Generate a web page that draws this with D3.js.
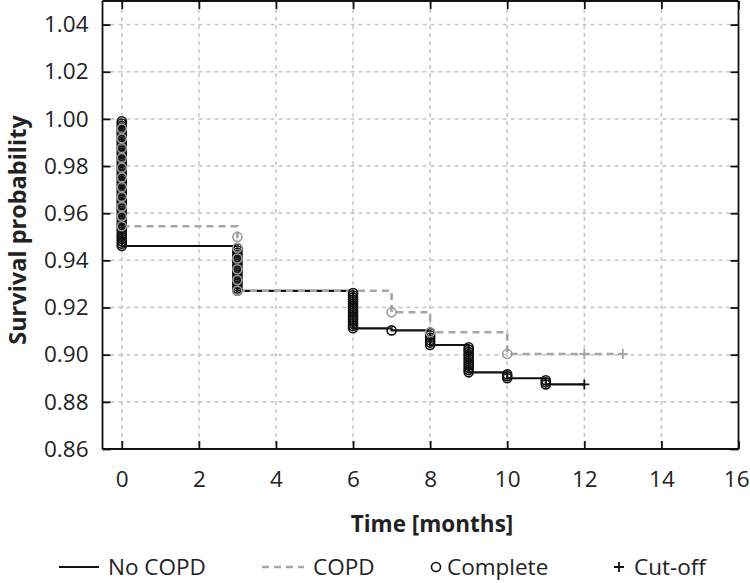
<!DOCTYPE html>
<html>
<head>
<meta charset="utf-8">
<script src="https://cdn.jsdelivr.net/npm/d3@7"></script>
<style>
html,body{margin:0;padding:0;background:#fff;}
svg{display:block;}
text{font-family:"Open Sans","Noto Sans",sans-serif;fill:#222;}
</style>
</head>
<body>
<svg id="chart" width="750" height="583"></svg>
<script>
// ---- data ----
const xTicks = [0, 2, 4, 6, 8, 10, 12, 14, 16];
const yTicks = [0.86, 0.88, 0.90, 0.92, 0.94, 0.96, 0.98, 1.00, 1.02, 1.04];

// No COPD: step times, survival after each step, number of events at the step
const timesNoCOPD  = [0, 3, 6, 7, 8, 9, 10, 11];
const levelsNoCOPD = [0.9461, 0.9271, 0.9112, 0.9103, 0.9041, 0.8925, 0.8900, 0.8874];
const eventsNoCOPD = [55, 20, 17, 1, 6, 12, 3, 3];
const cutoffNoCOPD = [12];

// COPD
const timesCOPD  = [0, 3, 7, 8, 10];
const levelsCOPD = [0.9545, 0.9271, 0.9180, 0.9095, 0.9003];
const eventsCOPD = [11, 6, 1, 1, 1];
const cutoffCOPD = [12, 13];

const legendLabels = ["No COPD", "COPD", "Complete", "Cut-off"];

// ---- layout ----
const svg = d3.select("#chart");
const x = d3.scaleLinear().domain([-0.5, 16]).range([102.5, 738.5]);
const y = d3.scaleLinear().domain([0.86, 1.05]).range([449, 1]);

const BLACK = "#111", GRAY = "#a6a6a6", GRID = "#c4c4c4";

// grid
svg.append("g").selectAll("line").data(xTicks.filter(d => d < 16)).join("line")
  .attr("x1", d => x(d)).attr("x2", d => x(d)).attr("y1", y.range()[1]).attr("y2", y.range()[0])
  .attr("stroke", GRID).attr("stroke-width", 1.5).attr("stroke-dasharray", "4,4");
svg.append("g").selectAll("line").data(yTicks.filter(d => d > 0.86)).join("line")
  .attr("y1", d => y(d)).attr("y2", d => y(d)).attr("x1", x.range()[0]).attr("x2", x.range()[1])
  .attr("stroke", GRID).attr("stroke-width", 1.5).attr("stroke-dasharray", "4,4");

// axes (inward ticks on all four sides)
const axB = svg.append("g").attr("transform", `translate(0,${y.range()[0]})`)
  .call(d3.axisBottom(x).tickValues(xTicks).tickSize(-8).tickPadding(22).tickFormat(d3.format("d")));
const axT = svg.append("g").attr("transform", `translate(0,${y.range()[1]})`)
  .call(d3.axisTop(x).tickValues(xTicks).tickSize(-8).tickFormat(""));
const axL = svg.append("g").attr("transform", `translate(${x.range()[0]},0)`)
  .call(d3.axisLeft(y).tickValues(yTicks).tickSize(-8).tickPadding(14).tickFormat(d3.format(".2f")));
const axR = svg.append("g").attr("transform", `translate(${x.range()[1]},0)`)
  .call(d3.axisRight(y).tickValues(yTicks).tickSize(-8).tickFormat(""));
[axB, axT, axL, axR].forEach(g => {
  g.select(".domain").attr("stroke", BLACK).attr("stroke-width", 1.8);
  g.selectAll(".tick line").attr("stroke", BLACK).attr("stroke-width", 1.8);
  g.selectAll(".tick text").attr("font-size", 22.5).attr("fill", "#222")
    .attr("font-family", "'Open Sans','Noto Sans',sans-serif");
});
axT.select(".domain").attr("d", `M${x.range()[0]},0H${x.range()[1]}`);
axB.select(".domain").attr("d", `M${x.range()[0]},0H${x.range()[1]}`);
axL.select(".domain").attr("d", `M0,${y.range()[0]}V${y.range()[1]}`);
axR.select(".domain").attr("d", `M0,${y.range()[0]}V${y.range()[1]}`);
axB.selectAll(".tick text").attr("dy", "0.71em");
// keep the last bottom label inside the page
axB.selectAll(".tick").filter(d => d === 16).select("text")
  .attr("text-anchor", "end").attr("x", 749 - x(16));

// step curves
function stepPath(times, levels, endT) {
  const p = d3.path();
  p.moveTo(x(times[0]), y(1));
  let prev = 1;
  times.forEach((t, i) => {
    p.lineTo(x(t), y(prev));
    p.lineTo(x(t), y(levels[i]));
    prev = levels[i];
  });
  p.lineTo(x(endT), y(prev));
  return p.toString();
}
function eventPoints(times, levels, events) {
  const pts = [];
  let prev = 1;
  times.forEach((t, i) => {
    const n = events[i];
    for (let k = 1; k <= n; k++) pts.push({t, s: prev - (prev - levels[i]) * k / n});
    prev = levels[i];
  });
  return pts;
}

const plot = svg.append("g");
plot.append("path").attr("d", stepPath(timesNoCOPD, levelsNoCOPD, d3.max(cutoffNoCOPD)))
  .attr("fill", "none").attr("stroke", BLACK).attr("stroke-width", 2.2);
plot.append("path").attr("d", stepPath(timesCOPD, levelsCOPD, d3.max(cutoffCOPD)))
  .attr("fill", "none").attr("stroke", GRAY).attr("stroke-width", 2.6).attr("stroke-dasharray", "7,5");

plot.append("g").selectAll("circle").data(eventPoints(timesNoCOPD, levelsNoCOPD, eventsNoCOPD)).join("circle")
  .attr("cx", d => x(d.t)).attr("cy", d => y(d.s)).attr("r", 4.5)
  .attr("fill", "none").attr("stroke", BLACK).attr("stroke-width", 1.6);
plot.append("g").selectAll("circle").data(eventPoints(timesCOPD, levelsCOPD, eventsCOPD)).join("circle")
  .attr("cx", d => x(d.t)).attr("cy", d => y(d.s)).attr("r", 4.5)
  .attr("fill", "none").attr("stroke", "#9a9a9a").attr("stroke-width", 1.6);

function plus(g, cx, cy, color, h) {
  g.append("path").attr("d", `M${cx - h},${cy}H${cx + h}M${cx},${cy - h}V${cy + h}`)
    .attr("stroke", color).attr("stroke-width", 1.8).attr("fill", "none");
}
const lvlEnd = a => a[a.length - 1];
cutoffNoCOPD.forEach(t => plus(plot, x(t), y(lvlEnd(levelsNoCOPD)), BLACK, 5));
cutoffCOPD.forEach(t => plus(plot, x(t), y(lvlEnd(levelsCOPD)), GRAY, 5));

// axis titles
svg.append("text").attr("x", 432).attr("y", 532).attr("text-anchor", "middle")
  .attr("font-size", 22.5).attr("font-weight", "bold").attr("fill", "#111").text("Time [months]");
svg.append("text").attr("transform", "translate(26,230) rotate(-90)").attr("text-anchor", "middle")
  .attr("font-size", 23.5).attr("font-weight", "bold").attr("fill", "#111").text("Survival probability");

// legend
const ly = 567, lt = 575;
const leg = svg.append("g");
leg.append("line").attr("x1", 59).attr("x2", 99).attr("y1", ly).attr("y2", ly).attr("stroke", BLACK).attr("stroke-width", 2);
leg.append("text").attr("x", 108).attr("y", lt).attr("font-size", 22.5).text(legendLabels[0]);
leg.append("line").attr("x1", 262).attr("x2", 304).attr("y1", ly).attr("y2", ly).attr("stroke", GRAY).attr("stroke-width", 2.6).attr("stroke-dasharray", "7,5");
leg.append("text").attr("x", 313).attr("y", lt).attr("font-size", 22.5).text(legendLabels[1]);
leg.append("circle").attr("cx", 436).attr("cy", ly).attr("r", 4.5).attr("fill", "none").attr("stroke", BLACK).attr("stroke-width", 1.6);
leg.append("text").attr("x", 447).attr("y", lt).attr("font-size", 22.5).text(legendLabels[2]);
plus(leg, 619, ly, BLACK, 5);
leg.append("text").attr("x", 634).attr("y", lt).attr("font-size", 22.5).text(legendLabels[3]);
</script>
</body>
</html>
